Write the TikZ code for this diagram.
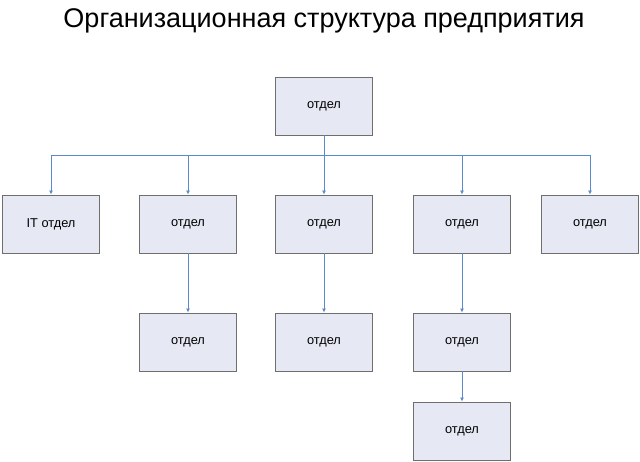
\documentclass[tikz,border=0pt]{standalone}
\usepackage{fontspec}
\setmainfont{Liberation Sans}
\usetikzlibrary{positioning, arrows.meta}
\definecolor{boxfill}{HTML}{E6E9F4}
\definecolor{boxline}{HTML}{6E6E6E}
\definecolor{linkblue}{HTML}{5B8AC6}
\tikzstyle{unit} = [rectangle, minimum width=97pt, minimum height=58pt, draw=boxline, fill=boxfill, font=\fontsize{12.8}{15}\selectfont, line width=0.9pt]
\tikzstyle{arrow} = [draw=linkblue, line width=0.9pt, -{Latex[length=4pt,width=4pt]}]
\tikzstyle{heading} = [font=\fontsize{27}{32}\selectfont]

\begin{document}
\begin{tikzpicture}[x=1pt, y=1pt]
    \useasboundingbox (0,0) rectangle (640,-461);
    \node(title)[heading] at (324,-21) {Организационная структура предприятия};
    \node(head)[unit] at (324,-106) {отдел};
    \node(mid)[node distance=118pt, unit, below of=head] {отдел};
    \node(left)[node distance=136pt, unit, left of=mid] {отдел};
    \node(it)[node distance=137pt, unit, left of=left] {IT отдел};
    \node(right)[node distance=138pt, unit, right of=mid] {отдел};
    \node(far)[node distance=128pt, unit, right of=right] {отдел};
    %
    \node(leftsub)[node distance=118pt, unit, below of=left] {отдел};
    \node(midsub)[node distance=118pt, unit, below of=mid] {отдел};
    \node(rightsub)[node distance=118pt, unit, below of=right] {отдел};
    \node(bottom)[node distance=89pt, unit, below of=rightsub] {отдел};
    %
    \draw[arrow](head.south) -- ++(0,-20) -| (it.north);
    \draw[arrow](head.south) -- ++(0,-20) -| (left.north);
    \draw[arrow](head) -- (mid);
    \draw[arrow](head.south) -- ++(0,-20) -| (right.north);
    \draw[arrow](head.south) -- ++(0,-20) -| (far.north);
    %
    \draw[arrow](left) -- (leftsub);
    \draw[arrow](mid) -- (midsub);
    \draw[arrow](right) -- (rightsub);
    \draw[arrow](rightsub) -- (bottom);
\end{tikzpicture}
\end{document}
